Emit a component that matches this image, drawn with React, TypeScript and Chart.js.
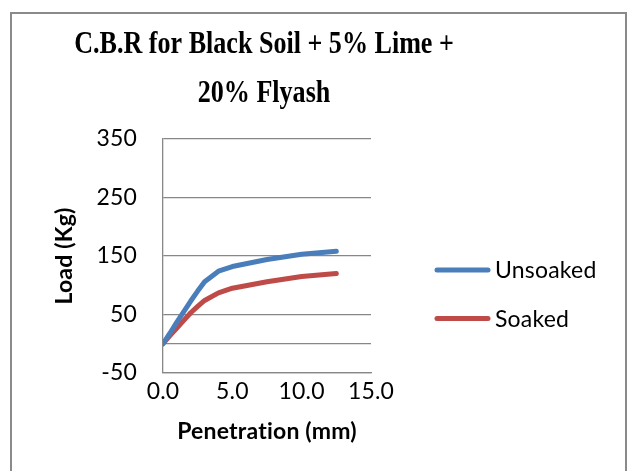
import React, { useEffect, useRef } from "react";
import { Chart, registerables } from "chart.js";

Chart.register(...registerables);

// Penetration readings (mm) and the loads (kg) measured at each of them
const penetration = [0, 0.5, 1, 1.5, 2, 2.5, 3, 4, 5, 7.5, 10, 12.5];
const unsoaked = [0, 18, 37, 55, 73, 90, 106, 124, 132, 144, 153, 158];
const soaked = [0, 14, 27, 40, 53, 64, 74, 87, 95, 106, 115, 120];

const seriesNames = ["Unsoaked", "Soaked"];
const seriesColors = ["#4A7EBB", "#BE4B48"];

const titleLines = ["C.B.R for Black Soil + 5% Lime +", "20% Flyash"];
const xTitle = "Penetration (mm)";
const yTitle = "Load (Kg)";
const yTickValues = [-50, 0, 50, 150, 250, 350];

const GRID = "#878787";
const SANS = "Lato, 'DejaVu Sans', sans-serif";

// white background and the outer frame
const framePlugin = {
  id: "frame",
  beforeDraw(chart: any) {
    const { ctx } = chart;
    ctx.save();
    ctx.fillStyle = "#ffffff";
    ctx.fillRect(0, 0, chart.width, chart.height);
    ctx.strokeStyle = "#8a8a8a";
    ctx.lineWidth = 2;
    ctx.strokeRect(11, 13, 615, 480);
    ctx.restore();
    // a touch of tracking keeps Lato from joining "ti" into a ligature
    ctx.letterSpacing = "0.2px";
  },
};

// two-line serif heading
const headingPlugin = {
  id: "heading",
  afterDraw(chart: any) {
    const { ctx } = chart;
    ctx.save();
    ctx.letterSpacing = "0px";
    ctx.fillStyle = "#000000";
    ctx.font = "bold 32px 'Liberation Serif', 'Times New Roman', serif";
    ctx.textAlign = "center";
    ctx.textBaseline = "alphabetic";
    titleLines.forEach((line, i) => {
      ctx.save();
      ctx.translate(264, 53 + i * 48.5);
      ctx.scale(0.815, 1);
      ctx.fillText(line, 0, 0);
      ctx.restore();
    });
    ctx.restore();
  },
};

// legend to the right of the plot: a short line sample and the series name
const sideLegendPlugin = {
  id: "sideLegend",
  afterDraw(chart: any) {
    const { ctx } = chart;
    ctx.save();
    chart.data.datasets.forEach((ds: any, i: number) => {
      const y = 270 + i * 48.5;
      ctx.strokeStyle = ds.borderColor;
      ctx.lineWidth = 5;
      ctx.lineCap = "round";
      ctx.beginPath();
      ctx.moveTo(437, y);
      ctx.lineTo(488, y);
      ctx.stroke();
      ctx.fillStyle = "#000000";
      ctx.font = `23px ${SANS}`;
      ctx.textAlign = "left";
      ctx.textBaseline = "middle";
      ctx.fillText(ds.label, 495, y + 1);
    });
    ctx.restore();
  },
};

export default function App() {
  const canvasRef = useRef<HTMLCanvasElement>(null);

  useEffect(() => {
    const canvas = canvasRef.current;
    if (!canvas) return;
    const series = [unsoaked, soaked];
    const chart = new Chart(canvas, {
      type: "line",
      data: {
        datasets: series.map((values, i) => ({
          label: seriesNames[i],
          data: penetration.map((x, j) => ({ x, y: values[j] })),
          borderColor: seriesColors[i],
          backgroundColor: seriesColors[i],
          borderWidth: 5,
          borderCapStyle: "round",
          borderJoinStyle: "round",
          pointRadius: 0,
          tension: 0,
          fill: false,
        })),
      },
      options: {
        animation: false,
        responsive: false,
        devicePixelRatio: 1,
        layout: { padding: { top: 139, right: 259, bottom: 18, left: 40 } },
        plugins: {
          legend: { display: false },
          title: { display: false },
          tooltip: { enabled: false },
        },
        scales: {
          x: {
            type: "linear",
            min: 0,
            max: 15,
            afterFit: (scale: any) => {
              scale.height = 80;
            },
            ticks: {
              stepSize: 5,
              maxRotation: 0,
              autoSkip: false,
              padding: 5,
              color: "#000000",
              font: { family: SANS, size: 23 },
              callback: (v: any) => Number(v).toFixed(1),
            },
            grid: { display: false, drawTicks: false },
            border: { display: true, color: GRID, width: 1.3 },
            title: {
              display: true,
              text: xTitle,
              color: "#000000",
              font: { family: SANS, size: 23, weight: "bold" },
              padding: { top: 0, bottom: 8 },
            },
          },
          y: {
            type: "linear",
            min: -50,
            max: 350,
            afterFit: (scale: any) => {
              scale.width = 123;
            },
            afterBuildTicks: (scale: any) => {
              scale.ticks = yTickValues.map((value) => ({ value }));
            },
            ticks: {
              padding: 26,
              color: "#000000",
              font: { family: SANS, size: 23 },
              callback: (v: any) => (Number(v) === 0 ? "" : String(v)),
            },
            grid: { color: GRID, lineWidth: 1.3, drawTicks: false },
            border: { display: true, color: GRID, width: 1.3 },
            title: {
              display: true,
              text: yTitle,
              color: "#000000",
              font: { family: SANS, size: 23, weight: "bold" },
              padding: { top: 11, bottom: 0 },
            },
          },
        },
      },
      plugins: [framePlugin, headingPlugin, sideLegendPlugin],
    } as any);
    return () => chart.destroy();
  }, []);

  return (
    <div style={{ position: "absolute", left: 0, top: 0, width: 630, height: 471, background: "#ffffff" }}>
      <canvas ref={canvasRef} width={630} height={471} style={{ display: "block" }} />
    </div>
  );
}
